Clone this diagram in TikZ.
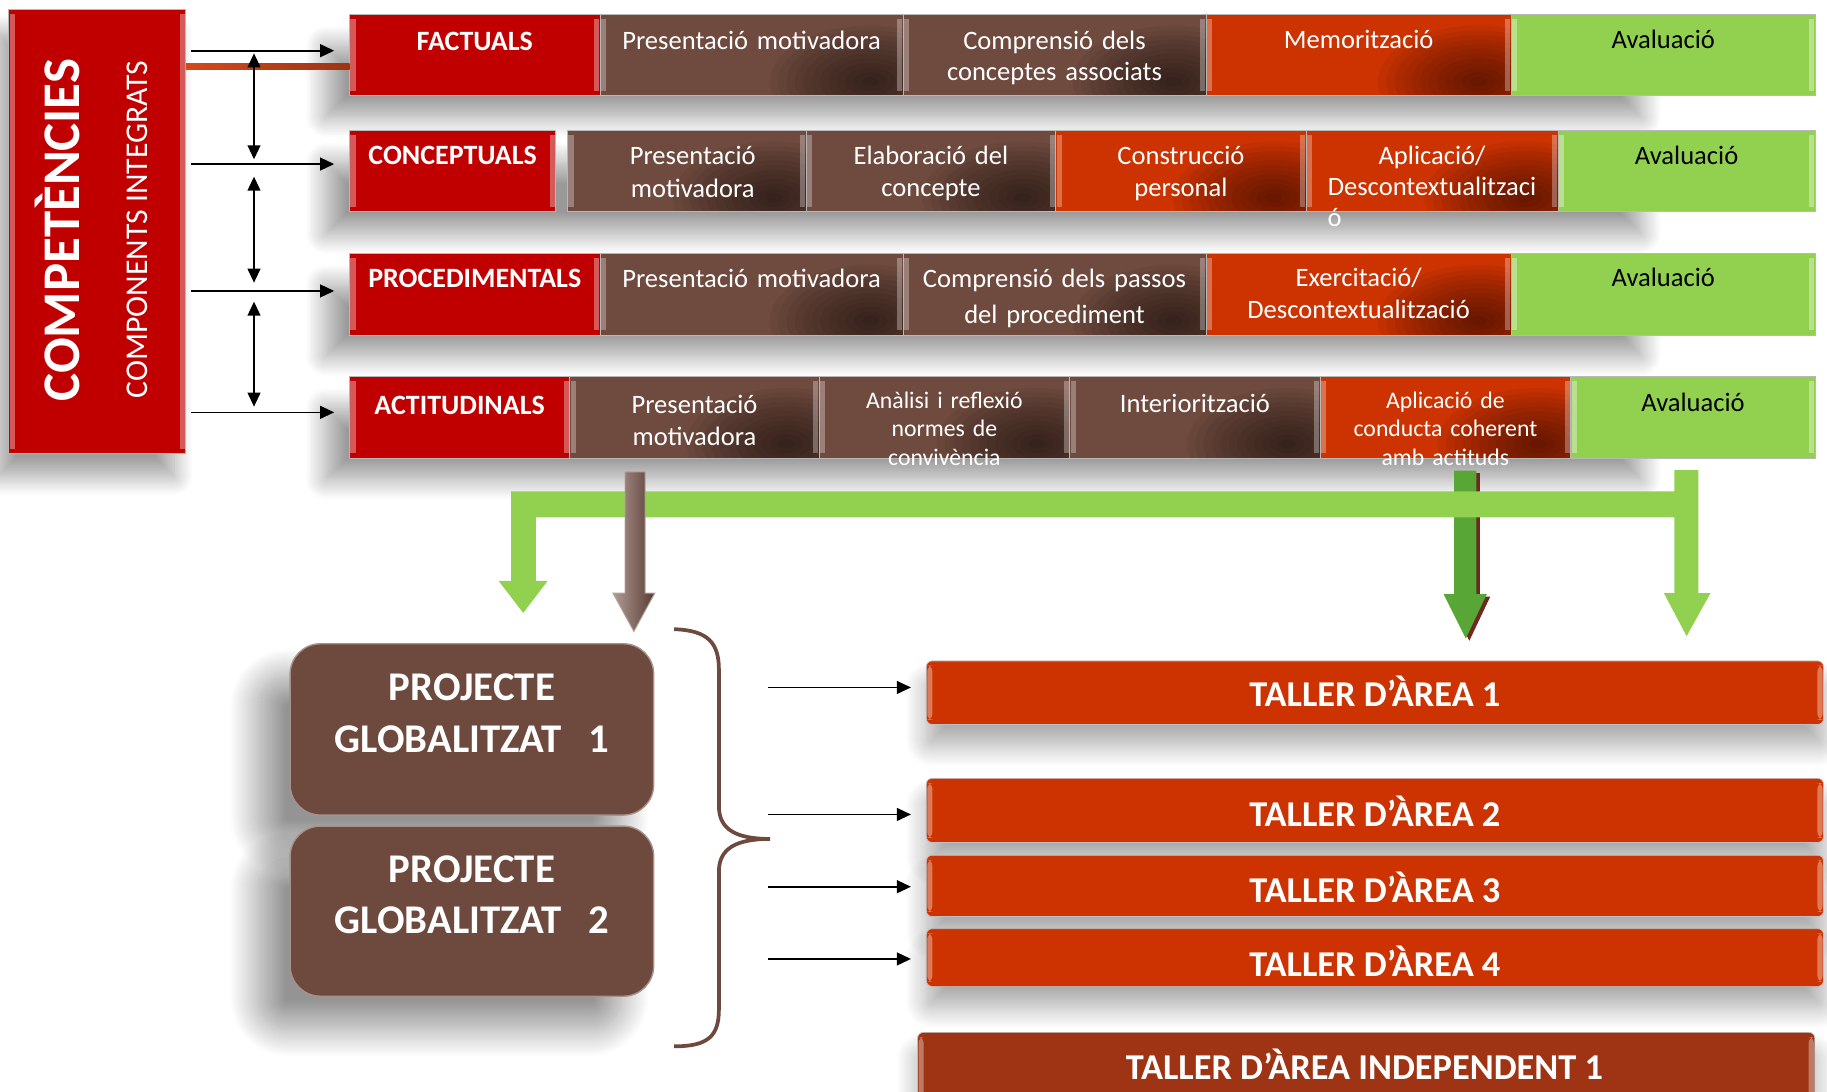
\documentclass[tikz,border=0pt]{standalone}
\usepackage{fontspec}
\setmainfont{Carlito}
\usetikzlibrary{arrows.meta,shadows.blur,calc}
\definecolor{cred}{HTML}{C00000}
\definecolor{cbrown}{HTML}{6F4A3E}
\definecolor{corange}{HTML}{CC3300}
\definecolor{cgreen}{HTML}{92D050}
\definecolor{cdgreen}{HTML}{57A636}
\definecolor{cdgshadow}{HTML}{6E2A20}
\definecolor{cindep}{HTML}{9E3414}
\definecolor{cpbrown}{HTML}{6D4A3D}
\definecolor{cline}{HTML}{D24A1C}
\definecolor{clined}{HTML}{9C3414}
\tikzset{
  flatpic/.style={path picture={
    \fill[white,opacity=0.35] ([xshift=0.4pt,yshift=2pt]path picture bounding box.south west) rectangle ([xshift=2.6pt,yshift=-2pt]path picture bounding box.north west);
    \fill[white,opacity=0.35] ([xshift=-2.6pt,yshift=2pt]path picture bounding box.south east) rectangle ([xshift=-0.4pt,yshift=-2pt]path picture bounding box.north east);
  }},
  shadpic/.style={path picture={
    \coordinate (dkc) at ([xshift=-14pt,yshift=6pt]path picture bounding box.south east);
    \foreach \r in {1,...,12}{
      \fill[black,opacity=0.05] (dkc) ellipse [x radius=\r*3.6pt, y radius=\r*2pt];
    }
    \fill[white,opacity=0.3] ([xshift=0.4pt,yshift=2pt]path picture bounding box.south west) rectangle ([xshift=2.6pt,yshift=-2pt]path picture bounding box.north west);
    \fill[white,opacity=0.3] ([xshift=-2.6pt,yshift=2pt]path picture bounding box.south east) rectangle ([xshift=-0.4pt,yshift=-2pt]path picture bounding box.north east);
  }},
  cellb/.style={rectangle, anchor=north west, inner sep=0pt, outer sep=0pt, minimum height=35pt, draw=black!28, line width=0.3pt},
  hdcell/.style={cellb, fill=cred, flatpic},
  brcell/.style={cellb, fill=cbrown, shadpic},
  orcell/.style={cellb, fill=corange, shadpic},
  grcell/.style={cellb, fill=cgreen, flatpic},
  wtext/.style={text=white, align=center, text width=140pt, inner sep=0pt, font=\fontsize{11.4}{13.5}\selectfont},
  btext/.style={wtext, text=black},
  stext/.style={wtext, font=\fontsize{10.2}{12.2}\selectfont},
  htext/.style={text=white, inner sep=0pt, font=\fontsize{12}{14}\selectfont\bfseries},
  rowshadow/.style={blur shadow={shadow xshift=0pt, shadow yshift=-9pt, shadow blur radius=9pt, shadow opacity=40, shadow blur steps=20}},
  arr/.style={-{Triangle[length=6pt,width=5.5pt]}, line width=0.7pt, black},
  dbl/.style={{Triangle[length=6pt,width=5.5pt]}-{Triangle[length=6pt,width=5.5pt]}, line width=0.7pt, black},
  compbox/.style={rectangle, fill=cred, inner sep=0pt, outer sep=0pt, minimum width=76pt, minimum height=190.5pt, draw=black!28, line width=0.3pt, flatpic,
     blur shadow={shadow xshift=-5pt, shadow yshift=-10pt, shadow blur radius=8pt, shadow opacity=38, shadow blur steps=20}},
  projbox/.style={rectangle, rounded corners=13pt, fill=cpbrown, draw=cpbrown!60!white, line width=0.6pt, minimum width=156pt, inner sep=0pt, outer sep=0pt,
     blur shadow={shadow xshift=-14pt, shadow yshift=-14pt, shadow blur radius=12pt, shadow opacity=42, shadow blur steps=30}},
  ptext/.style={text=white, align=center, text width=150pt, inner sep=0pt, font=\fontsize{17.5}{22}\selectfont\bfseries},
  tallerbox/.style={rectangle, rounded corners=2.5pt, fill=corange, draw=black!25, line width=0.3pt, minimum width=385pt, inner sep=0pt, outer sep=0pt, flatpic,
     blur shadow={shadow xshift=0pt, shadow yshift=-9pt, shadow blur radius=9pt, shadow opacity=34, shadow blur steps=20}},
  ttext/.style={text=white, inner sep=0pt, font=\fontsize{15.6}{18}\selectfont\bfseries},
}
\newcommand\mkcell[5]{\node[#5, minimum width={(#3-#2)*0.5pt}] (#1) at (#2,#4) {};}
\newcommand\mktext[4]{\node[#3, anchor=base] (#1t) at ($(#1.north)+(0,#2)$) {#4};}
\begin{document}
\begin{tikzpicture}[x=0.5pt,y=-0.5pt]
\useasboundingbox (0,0) rectangle (1568,937);
% row shadows
\path[rowshadow] (280,22) rectangle (1408,82);
\path[rowshadow] (280,122) rectangle (1408,182);
\path[rowshadow] (280,227) rectangle (1408,287);
\path[rowshadow] (280,333) rectangle (1408,393);
% competencies box
\node[compbox] (comp) at (83.5,198.5) {};
\node[rotate=90, anchor=base, text=white, inner sep=0pt, font=\fontsize{22.7}{26}\selectfont\bfseries] (compt) at (68,197.5) {COMPETÈNCIES};
\node[rotate=90, anchor=base, text=white, inner sep=0pt, font=\fontsize{13.6}{16}\selectfont] (compi) at (127,197) {COMPONENTS INTEGRATS};
% row 1
\mkcell{fact}{300}{515}{12}{hdcell}
\mkcell{ra1}{515}{775}{12}{brcell}
\mkcell{ra2}{775}{1035}{12}{brcell}
\mkcell{ra3}{1035}{1297}{12}{orcell}
\mkcell{ra4}{1297}{1558}{12}{grcell}
% row 2
\mkcell{conc}{300}{477}{111.6}{hdcell}
\mkcell{rb1}{487}{692}{111.6}{brcell}
\mkcell{rb2}{692}{906}{111.6}{brcell}
\mkcell{rb3}{906}{1121}{111.6}{orcell}
\mkcell{rb4}{1121}{1337}{111.6}{orcell}
\mkcell{rb5}{1337}{1558}{111.6}{grcell}
% row 3
\mkcell{proc}{300}{515}{217.4}{hdcell}
\mkcell{rc1}{515}{775}{217.4}{brcell}
\mkcell{rc2}{775}{1035}{217.4}{brcell}
\mkcell{rc3}{1035}{1297}{217.4}{orcell}
\mkcell{rc4}{1297}{1558}{217.4}{grcell}
% row 4
\mkcell{acti}{300}{489}{323}{hdcell}
\mkcell{rd1}{489}{703}{323}{brcell}
\mkcell{rd2}{703}{918}{323}{brcell}
\mkcell{rd3}{918}{1133}{323}{brcell}
\mkcell{rd4}{1133}{1348}{323}{orcell}
\mkcell{rd5}{1348}{1558}{323}{grcell}
% texts
\mktext{fact}{31}{htext}{FACTUALS}
\mktext{ra1}{30.3}{wtext}{Presentació motivadora}
\mktext{ra2}{30.3}{wtext, font=\fontsize{11.4}{13.2}\selectfont}{Comprensió dels\\conceptes associats}
\mktext{ra3}{29.5}{wtext}{Memorització}
\mktext{ra4}{29.5}{btext}{Avaluació}
\mktext{conc}{30}{htext}{CONCEPTUALS}
\node[wtext, font=\fontsize{11.4}{13.9}\selectfont, anchor=base] (rb1t) at ($(rb1.north)+(5,29.8)$) {Presentació\\motivadora};
\mktext{rb2}{29.3}{wtext, font=\fontsize{11.4}{14}\selectfont}{Elaboració del\\concepte}
\mktext{rb3}{29.3}{wtext, font=\fontsize{11.4}{14}\selectfont}{Construcció\\personal}
\mktext{rb4}{29.3}{wtext, font=\fontsize{11.4}{13.4}\selectfont}{Aplicació/\\Descontextualitzaci}
\node[text=white, inner sep=0pt, font=\fontsize{11.4}{13.4}\selectfont, anchor=base west] (rb4o) at ($(rb4t.base)+(-90,53.6)$) {ó};
\mktext{rb5}{29.3}{btext}{Avaluació}
\mktext{proc}{29.2}{htext}{PROCEDIMENTALS}
\mktext{rc1}{29.2}{wtext}{Presentació motivadora}
\mktext{rc2}{29.2}{wtext, font=\fontsize{11.4}{15.5}\selectfont}{Comprensió dels passos\\del procediment}
\mktext{rc3}{28.6}{wtext, font=\fontsize{11.4}{13.6}\selectfont}{Exercitació/\\Descontextualització}
\mktext{rc4}{28.6}{btext}{Avaluació}
\mktext{acti}{32.6}{htext}{ACTITUDINALS}
\mktext{rd1}{31.7}{wtext, font=\fontsize{11.4}{13.65}\selectfont}{Presentació\\motivadora}
\mktext{rd2}{27.4}{stext}{Anàlisi i reflexió\\normes de\\convivència}
\mktext{rd3}{31}{wtext}{Interiorització}
\mktext{rd4}{27.4}{stext}{Aplicació de\\conducta coherent\\amb actituds}
\mktext{rd5}{30}{btext}{Avaluació}
% orange line
\coordinate (ol) at (0,57.2);
\path[left color=cline, right color=clined] ($(ol -| comp.east)+(0,-2.8)$) rectangle ($(ol -| fact.west)+(0,2.8)$);
% horizontal arrows
\coordinate (h1) at ([yshift=1.75pt]fact.west);
\coordinate (h2) at ([yshift=2.9pt]conc.west);
\coordinate (h3) at ([yshift=1.35pt]proc.west);
\coordinate (h4) at ([yshift=2.05pt]acti.west);
\foreach \h in {h1,h2,h3,h4}{
  \draw[arr, shorten <=2.25pt, shorten >=6.6pt] (\h -| comp.east) -- (\h);
}
% double arrows
\coordinate (d1a) at (218,45.8); \coordinate (d1b) at (218,136.7);
\coordinate (d2a) at (218,151.6); \coordinate (d2b) at (218,242.6);
\coordinate (d3a) at (218,258.9); \coordinate (d3b) at (218,349);
\draw[dbl] (d1a) -- (d1b);
\draw[dbl] (d2a) -- (d2b);
\draw[dbl] (d3a) -- (d3b);
% dark green arrow with shadow
\begin{scope}[shift={(3,2)}]
\fill[cdgshadow] (1248,404) -- (1267,404) -- (1267,510) -- (1276,510) -- (1258,548) -- (1239,510) -- (1248,510) -- cycle;
\end{scope}
\fill[cdgreen] (1248,404) -- (1267,404) -- (1267,510) -- (1276,510) -- (1258,548) -- (1239,510) -- (1248,510) -- cycle;
% green bus
\fill[cgreen] (438.6,421.8) -- (1437,421.8) -- (1437,403.5) -- (1457.5,403.5) -- (1457.5,509) -- (1468,509) -- (1447.5,546) -- (1428,509) -- (1437,509) -- (1437,444) -- (459.8,444) -- (459.8,498.6) -- (470,498.6) -- (449,526) -- (428,498.6) -- (438.6,498.6) -- cycle;
% brown arrow
\path[left color=cbrown!55!white, middle color=cbrown!90!white, right color=cbrown!80!black, draw=cbrown!50!white, line width=0.4pt] (536.4,405) -- (553.6,405) -- (553.6,509) -- (562,509) -- (544,542) -- (526,509) -- (536.4,509) -- cycle;
% projects
\node[projbox, minimum height=73.5pt] (p1) at (405,626) {};
\node[projbox, minimum height=73pt] (p2) at (405,782) {};
\node[ptext, anchor=base] (p1t) at ($(p1.center)+(0,-24.6)$) {PROJECTE\\GLOBALITZAT\ \ 1};
\node[ptext, anchor=base] (p2t) at ($(p2.center)+(0,-25)$) {PROJECTE\\GLOBALITZAT\ \ 2};
% brace
\draw[cpbrown, line width=1.6pt] (578.6,540) .. controls (608,541) and (617,552) .. (617,575) -- (617,692) .. controls (617,712) and (632,720) .. (661,720) .. controls (632,720) and (617,728) .. (617,748) -- (617,866) .. controls (617,889) and (608,898) .. (578.6,898);
% tallers
\node[tallerbox, minimum height=27.25pt] (t1) at (1180,594.5) {};
\node[tallerbox, minimum height=27.5pt] (t2) at (1180,695.5) {};
\node[tallerbox, minimum height=26.3pt] (t3) at (1180,760.3) {};
\node[tallerbox, minimum height=24.75pt] (t4) at (1180,821.8) {};
\node[tallerbox, fill=cindep, minimum height=32pt] (ti) at (1172.5,918) {};
\node[ttext, anchor=base] (t1t) at ($(t1.center)+(0,12.1)$) {TALLER D’ÀREA 1};
\node[ttext, anchor=base] (t2t) at ($(t2.center)+(0,13.5)$) {TALLER D’ÀREA 2};
\node[ttext, anchor=base] (t3t) at ($(t3.center)+(0,14.4)$) {TALLER D’ÀREA 3};
\node[ttext, anchor=base] (t4t) at ($(t4.center)+(0,15.9)$) {TALLER D’ÀREA 4};
\node[ttext, anchor=base] (tit) at ($(ti.center)+(-1.5,8.7)$) {TALLER D’ÀREA INDEPENDENT 1};
% brace arrows
\coordinate (q1) at (659,590);
\coordinate (q2) at (659,699);
\coordinate (q3) at (659,761);
\coordinate (q4) at (659,823);
\draw[arr, shorten >=6.6pt] (q1) -- (q1 -| t1.west);
\draw[arr, shorten >=6.6pt] (q2) -- (q2 -| t2.west);
\draw[arr, shorten >=6.6pt] (q3) -- (q3 -| t3.west);
\draw[arr, shorten >=6.6pt] (q4) -- (q4 -| t4.west);
\end{tikzpicture}
\end{document}
